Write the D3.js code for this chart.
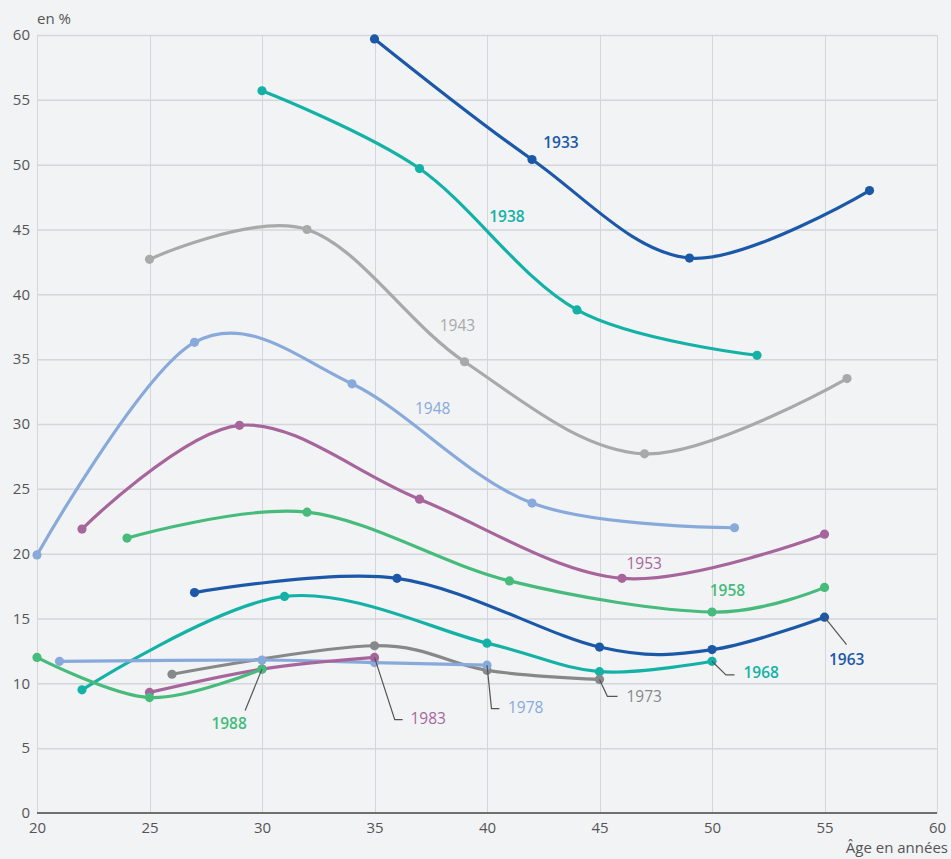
<!DOCTYPE html>
<html>
<head>
<meta charset="utf-8">
<script src="https://cdn.jsdelivr.net/npm/d3@7"></script>
<style>
  html, body { margin: 0; padding: 0; background: #f2f3f5; }
  svg { display: block; font-family: "Open Sans", "Noto Sans", sans-serif; }
</style>
</head>
<body>
<svg id="chart" width="951" height="859"></svg>
<script>
// ---------- DATA ----------
const cohorts = ["1933","1938","1943","1948","1953","1958","1963","1968","1973","1978","1983","1988"];

const ages1933 = [35, 42, 49, 57];          const rates1933 = [59.7, 50.4, 42.8, 48.0];
const ages1938 = [30, 37, 44, 52];          const rates1938 = [55.7, 49.7, 38.8, 35.3];
const ages1943 = [25, 32, 39, 47, 56];      const rates1943 = [42.7, 45.0, 34.8, 27.7, 33.5];
const ages1948 = [20, 27, 34, 42, 51];      const rates1948 = [19.9, 36.3, 33.1, 23.9, 22.0];
const ages1953 = [22, 29, 37, 46, 55];      const rates1953 = [21.9, 29.9, 24.2, 18.1, 21.5];
const ages1958 = [24, 32, 41, 50, 55];      const rates1958 = [21.2, 23.2, 17.9, 15.5, 17.4];
const ages1963 = [27, 36, 45, 50, 55];      const rates1963 = [17.0, 18.1, 12.8, 12.6, 15.1];
const ages1968 = [22, 31, 40, 45, 50];      const rates1968 = [9.5, 16.7, 13.1, 10.9, 11.7];
const ages1973 = [26, 35, 40, 45];          const rates1973 = [10.7, 12.9, 11.0, 10.3];
const ages1978 = [21, 30, 35, 40];          const rates1978 = [11.7, 11.8, 11.6, 11.4];
const ages1983 = [25, 30, 35];              const rates1983 = [9.3, 11.1, 12.0];
const ages1988 = [20, 25, 30];              const rates1988 = [12.0, 8.9, 11.1];

const xTicks = [20, 25, 30, 35, 40, 45, 50, 55, 60];
const yTicks = [0, 5, 10, 15, 20, 25, 30, 35, 40, 45, 50, 55, 60];

// ---------- STYLE / LAYOUT ----------
const colors = {
  "1933": "#1b59a8", "1938": "#14b2a6", "1943": "#a9a9a9", "1948": "#88aadb",
  "1953": "#a7669b", "1958": "#46bb7b", "1963": "#1b59a8", "1968": "#14b2a6",
  "1973": "#888888", "1978": "#88aadb", "1983": "#a7669b", "1988": "#46bb7b"
};
const labelWeight = {
  "1933": 600, "1938": 600, "1943": 400, "1948": 400, "1953": 400, "1958": 600,
  "1963": 600, "1968": 600, "1973": 400, "1978": 400, "1983": 400, "1988": 600
};
// label text position (data coords, text start / baseline) and connector path (data coords)
const labelPos = {
  "1933": { at: [42.5, 51.3] },
  "1938": { at: [40.1, 45.6] },
  "1943": { at: [37.9, 37.2] },
  "1948": { at: [36.8, 30.8] },
  "1953": { at: [46.2, 18.8] },
  "1958": { at: [49.9, 16.7] },
  "1963": { at: [55.2, 11.4], conn: [[55, 15.1], [55.98, 12.98]] },
  "1968": { at: [51.4, 10.4], conn: [[50, 11.7], [50.62, 10.65], [51.0, 10.65]] },
  "1973": { at: [46.2, 8.55], conn: [[45, 10.3], [45.35, 9.0], [45.8, 9.0]] },
  "1978": { at: [40.93, 7.7], conn: [[40, 11.4], [40.2, 8.05], [40.55, 8.05]] },
  "1983": { at: [36.6, 6.85], conn: [[35, 12.0], [35.9, 7.2], [36.25, 7.2]] },
  "1988": { at: [27.75, 6.45], conn: [[30, 11.1], [29.25, 7.9]] }
};

const dataSets = {
  "1933": [ages1933, rates1933], "1938": [ages1938, rates1938], "1943": [ages1943, rates1943],
  "1948": [ages1948, rates1948], "1953": [ages1953, rates1953], "1958": [ages1958, rates1958],
  "1963": [ages1963, rates1963], "1968": [ages1968, rates1968], "1973": [ages1973, rates1973],
  "1978": [ages1978, rates1978], "1983": [ages1983, rates1983], "1988": [ages1988, rates1988]
};
const series = cohorts.map(c => {
  const [ages, rates] = dataSets[c];
  return { name: c, points: ages.map((a, i) => ({ age: a, rate: rates[i] })) };
});

// ---------- SCALES ----------
const svg = d3.select("#chart");
const margin = { left: 37, right: 14, top: 35, bottom: 46 };
const W = 951, H = 859;
const x = d3.scaleLinear().domain([20, 60]).range([margin.left, W - margin.right]);
const y = d3.scaleLinear().domain([0, 60]).range([H - margin.bottom, margin.top]);

// ---------- GRID ----------
const grid = svg.append("g");
grid.selectAll("line.h").data(yTicks.filter(t => t > 0)).join("line")
  .attr("x1", x(20)).attr("x2", x(60))
  .attr("y1", d => y(d) + 0.5).attr("y2", d => y(d) + 0.5)
  .attr("stroke", "#d5d6d9").attr("stroke-width", 1.5);
grid.selectAll("line.v").data(xTicks).join("line")
  .attr("x1", d => Math.round(x(d)) + 0.5).attr("x2", d => Math.round(x(d)) + 0.5)
  .attr("y1", y(60)).attr("y2", y(0))
  .attr("stroke", "#d5d6d9").attr("stroke-width", 1);
// baseline
svg.append("line").attr("x1", x(20)).attr("x2", x(60))
  .attr("y1", y(0)).attr("y2", y(0))
  .attr("stroke", "#6f6f6f").attr("stroke-width", 2);

// ---------- AXES ----------
const yAxis = d3.axisLeft(y).tickValues(yTicks).tickSize(0).tickPadding(7);
svg.append("g").attr("transform", `translate(${x(20)},0)`).call(yAxis)
  .call(g => g.select(".domain").remove())
  .call(g => g.selectAll("text").attr("fill", "#555").style("font-size", "15px")
    .style("font-family", "'Open Sans', sans-serif"));

const xAxis = d3.axisBottom(x).tickValues(xTicks).tickSize(0).tickPadding(9);
svg.append("g").attr("transform", `translate(0,${y(0)})`).call(xAxis)
  .call(g => g.select(".domain").remove())
  .call(g => g.selectAll("text").attr("fill", "#555").style("font-size", "15px")
    .style("font-family", "'Open Sans', sans-serif"));

svg.append("text").attr("x", x(20)).attr("y", 24).text("en %")
  .attr("fill", "#555").style("font-size", "15px");
svg.append("text").attr("x", 948).attr("y", 853).attr("text-anchor", "end")
  .text("Âge en années").attr("fill", "#555").style("font-size", "15px");

// ---------- LINES ----------
const line = d3.line().x(d => x(d.age)).y(d => y(d.rate)).curve(d3.curveCardinal.tension(0));
const gS = svg.append("g");
series.forEach(s => {
  const g = gS.append("g");
  g.append("path").datum(s.points).attr("d", line)
    .attr("fill", "none").attr("stroke", colors[s.name]).attr("stroke-width", 3.2)
    .attr("stroke-linejoin", "round").attr("stroke-linecap", "round");
  g.selectAll("circle").data(s.points).join("circle")
    .attr("cx", d => x(d.age)).attr("cy", d => y(d.rate)).attr("r", 4.6)
    .attr("fill", colors[s.name]);
});

// ---------- LABELS ----------
const connLine = d3.line().x(d => x(d[0])).y(d => y(d[1]));
const gL = svg.append("g");
cohorts.forEach(c => {
  const lp = labelPos[c];
  if (lp.conn) {
    gL.append("path").attr("d", connLine(lp.conn)).attr("fill", "none")
      .attr("stroke", "#555").attr("stroke-width", 1.2);
  }
  gL.append("text").attr("x", x(lp.at[0])).attr("y", y(lp.at[1]))
    .text(c).attr("fill", colors[c]).style("font-size", "15.5px")
    .style("font-weight", labelWeight[c]);
});
</script>
</body>
</html>
